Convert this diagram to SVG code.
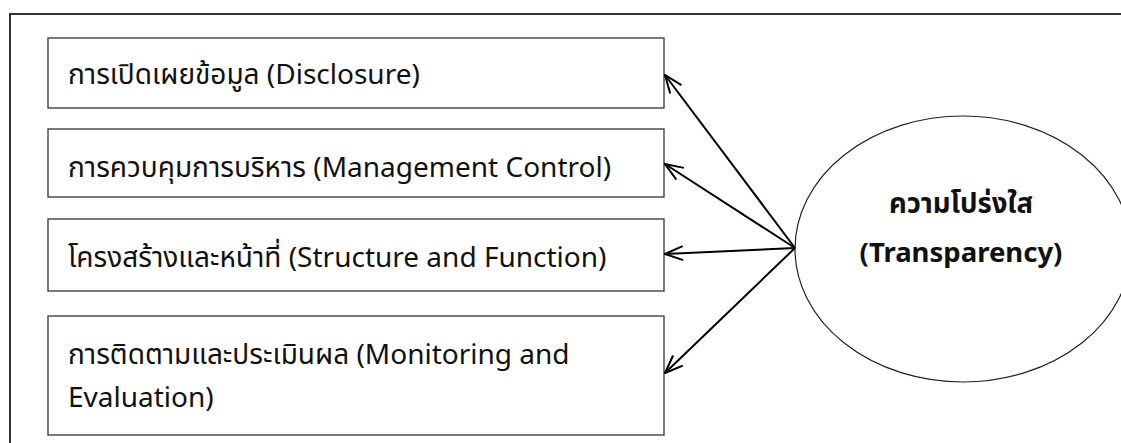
<svg xmlns="http://www.w3.org/2000/svg" width="1121" height="443" viewBox="0 0 1121 443">
<defs>
<style>
.box{fill:#fff;stroke:#333;stroke-width:1.3}
.t{font-family:"Noto Sans","Noto Sans Thai","DejaVu Sans",sans-serif;font-size:28px;fill:#111}
.tb{font-family:"Noto Sans","Noto Sans Thai","DejaVu Sans",sans-serif;font-size:27.5px;font-weight:bold;fill:#111;text-anchor:middle}
.c{stroke:#000;stroke-width:2;fill:none;marker-end:url(#ah)}
</style>
<marker id="ah" viewBox="0 0 20 20" refX="19" refY="10" markerWidth="20" markerHeight="20" markerUnits="userSpaceOnUse" orient="auto">
<path d="M1,3 L19,10 L1,17" fill="none" stroke="#000" stroke-width="2"/>
</marker>
</defs>
<rect width="1121" height="443" fill="#fff"/>
<rect id="frame" x="10" y="14" width="1130" height="440" fill="none" stroke="#333" stroke-width="2"/>
<g id="node-disclosure">
<rect class="box" x="48" y="38" width="616" height="70"/>
<text class="t" x="68" y="84">การเปิดเผยข้อมูล (Disclosure)</text>
</g>
<g id="node-management">
<rect class="box" x="48" y="129" width="616" height="68"/>
<text class="t" x="68" y="177">การควบคุมการบริหาร (Management Control)</text>
</g>
<g id="node-structure">
<rect class="box" x="48" y="219" width="616" height="72"/>
<text class="t" x="68" y="267">โครงสร้างและหน้าที่ (Structure and Function)</text>
</g>
<g id="node-monitoring">
<rect class="box" x="48" y="316" width="616" height="119"/>
<text class="t" x="68" y="364">การติดตามและประเมินผล (Monitoring and</text>
<text class="t" x="68" y="407">Evaluation)</text>
</g>
<g id="node-transparency">
<ellipse cx="963" cy="249" rx="168" ry="133" fill="#fff" stroke="#222" stroke-width="1.2"/>
<text class="tb" x="961" y="213">ความโปร่งใส</text>
<text class="tb" x="961" y="262">(Transparency)</text>
</g>
<g id="connectors">
<line class="c" x1="795" y1="248" x2="665" y2="75"/>
<line class="c" x1="795" y1="248" x2="665" y2="164"/>
<line class="c" x1="795" y1="248" x2="665" y2="254"/>
<line class="c" x1="795" y1="248" x2="665" y2="373"/>
</g>
</svg>
